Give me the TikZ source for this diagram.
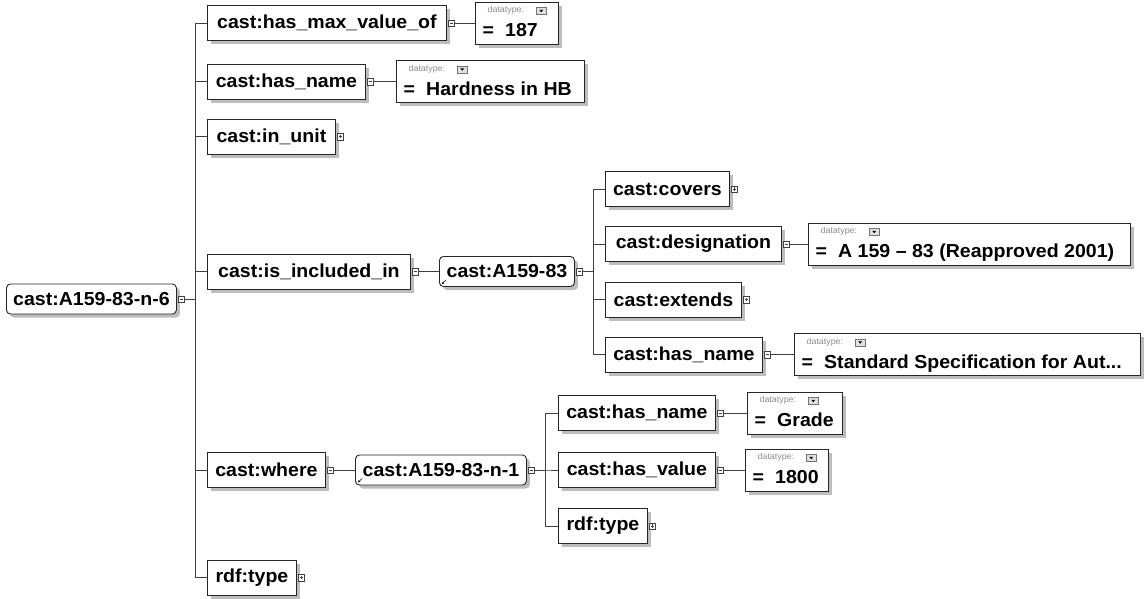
\documentclass[tikz,border=0pt]{standalone}
\usepackage{fontspec}
\setmainfont{Liberation Sans}[FakeStretch=1.04]
\usetikzlibrary{shadows,calc,arrows.meta}
\begin{document}
\begin{tikzpicture}[x=1pt,y=-1pt,
 shadowed/.style={drop shadow={shadow xshift=3.5pt, shadow yshift=-3.5pt, fill=black!26, opacity=1}},
 ebox/.style={draw=black!85, line width=0.9pt, fill=white, shadowed, minimum height=35pt, inner xsep=6pt, inner ysep=0pt, anchor=west, font=\bfseries\fontsize{18.8}{20}\selectfont},
 rbox/.style={ebox, rounded corners=4pt, minimum height=30pt},
 icon/.style={draw=black!75, fill=white, line width=0.5pt, minimum size=6.5pt, inner sep=0pt, anchor=west},
 minusicon/.style={icon, path picture={\draw[line width=0.6pt] ([xshift=1.4pt]path picture bounding box.west) -- ([xshift=-1.4pt]path picture bounding box.east);}},
 plusicon/.style={icon, path picture={\draw[line width=0.6pt] ([xshift=1.4pt]path picture bounding box.west) -- ([xshift=-1.4pt]path picture bounding box.east); \draw[line width=0.6pt] ([yshift=1.4pt]path picture bounding box.south) -- ([yshift=-1.4pt]path picture bounding box.north);}},
 vbox/.style={draw=black!85, line width=0.9pt, fill=white, shadowed, minimum height=42pt, inner sep=0pt, anchor=west},
 vtxt/.style={font=\bfseries\fontsize{18.8}{20}\selectfont, inner sep=0pt, anchor=base west},
 dtl/.style={font=\fontsize{8.5}{9}\selectfont, text=black!45, inner sep=0pt, anchor=west},
 btn/.style={draw=black!55, fill=black!12, minimum width=10pt, minimum height=7pt, inner sep=0pt, anchor=north west, path picture={\fill[black] ([xshift=-2pt,yshift=1pt]path picture bounding box.center) -- ([xshift=2pt,yshift=1pt]path picture bounding box.center) -- ([yshift=-1.5pt]path picture bounding box.center) -- cycle;}},
 conn/.style={draw=black!75, line width=0.8pt},
 refarrow/.style={-{Stealth[length=2.5pt,width=2.5pt]}, line width=0.6pt}
]
\useasboundingbox (0,0) rectangle (1144,598);

% root
\node[rbox, minimum width=170pt] (root) at (6,299) {cast:A159-83-n-6};
\node[minusicon] (mroot) at ([xshift=1pt]root.east) {};
\coordinate (s0) at (195,299);

% level 1
\node[ebox, minimum width=239pt] (hmv) at (207,23) {cast:has\_max\_value\_of};
\node[ebox, minimum width=158pt] (hn) at (207,81.5) {cast:has\_name};
\node[ebox, minimum width=128pt] (iu) at (207,136.5) {cast:in\_unit};
\node[ebox, minimum width=203pt] (iii) at (207,271.5) {cast:is\_included\_in};
\node[ebox, minimum width=118pt] (wh) at (207,470) {cast:where};
\node[ebox, minimum width=89pt] (rt) at (207,577.5) {rdf:type};
\node[minusicon] (mhmv) at ([xshift=1pt]hmv.east) {};
\node[minusicon] (mhn) at ([xshift=1pt]hn.east) {};
\node[plusicon] (miu) at ([xshift=1pt]iu.east) {};
\node[minusicon] (miii) at ([xshift=1pt]iii.east) {};
\node[minusicon] (mwh) at ([xshift=1pt]wh.east) {};
\node[plusicon] (mrt) at ([xshift=1pt]rt.east) {};

\foreach \c in {hmv,hn,iu,iii,wh,rt}{\draw[conn] (mroot.east) -- (s0) |- (\c.west);}

% A159-83
\node[rbox, minimum width=135pt] (a83) at (439,271.5) {cast:A159-83};
\draw[refarrow] ([xshift=7pt,yshift=7pt]a83.south west) -- ([xshift=3pt,yshift=3pt]a83.south west);
\node[minusicon] (ma83) at ([xshift=1pt]a83.east) {};
\draw[conn] (miii.east) -- (a83.west);
\coordinate (s1) at (593,271.5);

\node[ebox, minimum width=124pt] (cov) at (605,189) {cast:covers};
\node[ebox, minimum width=176pt] (des) at (605,244) {cast:designation};
\node[ebox, minimum width=136pt] (ext) at (605,299.5) {cast:extends};
\node[ebox, minimum width=157pt] (hn2) at (605,354.5) {cast:has\_name};
\node[plusicon] (mcov) at ([xshift=1pt]cov.east) {};
\node[minusicon] (mdes) at ([xshift=1pt]des.east) {};
\node[plusicon] (mext) at ([xshift=1pt]ext.east) {};
\node[minusicon] (mhn2) at ([xshift=1pt]hn2.east) {};
\foreach \c in {cov,des,ext,hn2}{\draw[conn] (ma83.east) -- (s1) |- (\c.west);}

% A159-83-n-1
\node[rbox, minimum width=171pt] (n1) at (355,470) {cast:A159-83-n-1};
\draw[refarrow] ([xshift=7pt,yshift=7pt]n1.south west) -- ([xshift=3pt,yshift=3pt]n1.south west);
\node[minusicon] (mn1) at ([xshift=1pt]n1.east) {};
\draw[conn] (mwh.east) -- (n1.west);
\coordinate (s2) at (545,470);

\node[ebox, minimum width=157pt] (hn3) at (558,413) {cast:has\_name};
\node[ebox, minimum width=157pt] (hv) at (558,470) {cast:has\_value};
\node[ebox, minimum width=89pt] (rt2) at (558,526) {rdf:type};
\node[minusicon] (mhn3) at ([xshift=1pt]hn3.east) {};
\node[minusicon] (mhv) at ([xshift=1pt]hv.east) {};
\node[plusicon] (mrt2) at ([xshift=1pt]rt2.east) {};
\foreach \c in {hn3,hv,rt2}{\draw[conn] (mn1.east) -- (s2) |- (\c.west);}

% value boxes
\node[vbox, minimum width=83pt] (v1) at (475,23) {};
\node[vbox, minimum width=188pt] (v2) at (396,81.5) {};
\node[vbox, minimum width=322pt] (v3) at (808,244) {};
\node[vbox, minimum width=346pt] (v4) at (794,354.5) {};
\node[vbox, minimum width=95pt] (v5) at (747,413) {};
\node[vbox, minimum width=83pt] (v6) at (745,470) {};
\draw[conn] (mhmv.east) -- (v1.west |- mhmv.east);
\draw[conn] (mhn.east) -- (v2.west |- mhn.east);
\draw[conn] (mdes.east) -- (v3.west |- mdes.east);
\draw[conn] (mhn2.east) -- (v4.west |- mhn2.east);
\draw[conn] (mhn3.east) -- (v5.west |- mhn3.east);
\draw[conn] (mhv.east) -- (v6.west |- mhv.east);

\foreach \v in {v1,v2,v3,v4,v5,v6}{
 \node[dtl] (\v l) at ([xshift=12.5pt,yshift=-9pt]\v.north west) {datatype:};
 \node[btn] (\v b) at ([xshift=61pt,yshift=-5.5pt]\v.north west) {};
 \node[vtxt] (\v e) at ([xshift=7.5pt,yshift=-35pt]\v.north west) {=};
}
\node[vtxt] (v1t) at ([xshift=30pt,yshift=-35pt]v1.north west) {187};
\node[vtxt] (v2t) at ([xshift=30pt,yshift=-35pt]v2.north west) {Hardness in HB};
\node[vtxt] (v3t) at ([xshift=30pt,yshift=-35pt]v3.north west) {A 159 – 83 (Reapproved 2001)};
\node[vtxt] (v4t) at ([xshift=30pt,yshift=-35pt]v4.north west) {Standard Specification for Aut...};
\node[vtxt] (v5t) at ([xshift=30pt,yshift=-35pt]v5.north west) {Grade};
\node[vtxt] (v6t) at ([xshift=30pt,yshift=-35pt]v6.north west) {1800};
\end{tikzpicture}
\end{document}
